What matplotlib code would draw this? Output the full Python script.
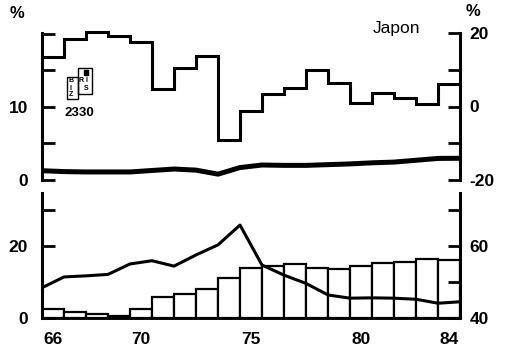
import numpy as np
import matplotlib.pyplot as plt
from matplotlib.patches import Rectangle

plt.rcParams['font.family'] = ['Liberation Sans', 'DejaVu Sans']

#### Data ####
years = np.arange(66, 85)                      # one bar / step per year
edges = np.arange(65.5, 85.5)                  # year boundaries
tick_years = [66, 70, 75, 80, 84]

# top panel: yearly growth (right scale, steps) and unemployment (left scale)
growth = [13.4, 18.4, 20.4, 19.3, 17.5, 4.7, 10.6, 13.8, -9.0, -1.3,
          3.3, 5.1, 9.9, 6.5, 1.0, 3.8, 2.2, 0.8, 6.0]
unemp = [1.27, 1.15, 1.1, 1.1, 1.1, 1.3, 1.5, 1.35, 0.8, 1.7,
         2.05, 2.0, 2.0, 2.1, 2.2, 2.35, 2.45, 2.7, 2.95, 2.97]

# bottom panel: price rise (left scale, line) and share (right scale, bars)
prices = [8.4, 11.4, 11.7, 12.1, 15.0, 15.9, 14.4, 17.5, 20.3, 25.8,
          14.7, 11.9, 9.6, 6.4, 5.5, 5.6, 5.5, 5.2, 4.1, 4.5]
shares = [42.5, 41.75, 41.0, 40.6, 42.5, 45.7, 46.6, 48.0, 51.0, 53.8,
          54.4, 55.0, 53.8, 53.5, 54.3, 55.4, 55.6, 56.4, 56.1]

W, H = 508, 353
def px(x, y): return (x / W, 1 - y / H)

FS = 12.5   # size of the numbers on the axes


#### Axis styling shared by both panels ####
def style_axis(ax, side, bottom_spine=False):
    for s in ["top", "bottom", "left", "right"]:
        ax.spines[s].set_visible(False)
    ax.spines[side].set_visible(True)
    ax.spines[side].set_linewidth(2.2)
    if bottom_spine:
        ax.spines["bottom"].set_visible(True)
        ax.spines["bottom"].set_linewidth(1.8)
    ax.tick_params(axis="y", direction="in", length=9, width=2,
                   labelsize=FS, pad=10 if side == "left" else 7)
    if side == "right":
        ax.yaxis.tick_right()
    for lab in ax.get_yticklabels():
        lab.set_fontweight("bold")


fig = plt.figure(figsize=(W / 100, H / 100), dpi=100)

#### Top panel ####
ax1 = fig.add_axes([42 / W, 1 - 180 / H, 418 / W, 147 / H])
ax1.plot(edges, unemp, color="black", lw=3.6, solid_capstyle="butt")
ax1.set_xlim(65.5, 84.5)
ax1.set_ylim(0, 20.1)
ax1.set_yticks([0, 5, 10, 15, 20])
ax1.set_yticklabels(["0", "", "10", "", ""])
ax1.set_xticks([])
style_axis(ax1, "left")

ax1r = ax1.twinx()
ax1r.stairs(growth, edges, baseline=None, color="black", lw=2.2, clip_on=False)
ax1r.set_xlim(65.5, 84.5)
ax1r.set_ylim(-20, 20)
ax1r.set_yticks([-20, -10, 0, 10, 20])
ax1r.set_yticklabels(["-20", "", "0", "", "20"])
style_axis(ax1r, "right")

#### Bottom panel ####
ax2 = fig.add_axes([42 / W, 1 - 318 / H, 418 / W, 125 / H])
ax2r = ax2.twinx()
ax2r.bar(years, np.array(shares) - 40, bottom=40, width=1, color="white",
         edgecolor="black", linewidth=1.6)
ax2r.set_ylim(40, 74.7)
ax2r.set_yticks([40, 50, 60, 70])
ax2r.set_yticklabels(["40", "", "60", ""])
style_axis(ax2r, "right", bottom_spine=True)

# line drawn above the bars
ax2.set_zorder(ax2r.get_zorder() + 1)
ax2.patch.set_visible(False)
ax2.plot(edges, prices, color="black", lw=2.2)
ax2.set_xlim(65.5, 84.5)
ax2.set_ylim(0, 34.7)
ax2.set_yticks([0, 20, 30])
ax2.set_yticklabels(["0", "20", ""])
style_axis(ax2, "left", bottom_spine=True)
ax2.set_xticks(tick_years)
ax2.set_xticklabels([str(y) for y in tick_years], fontsize=FS, fontweight="bold")
ax2.tick_params(axis="x", length=0, pad=10)
ax2r.set_xlim(65.5, 84.5)

#### Texts ####
fig.text(*px(17, 14), "%", fontsize=12, fontweight="bold", ha="center", va="center")
fig.text(*px(473, 11), "%", fontsize=12, fontweight="bold", ha="center", va="center")
fig.text(*px(397, 28), "Japon", fontsize=12.5, ha="center", va="center")

#### Small stamp ####
for (x0, y0, x1, y1) in [(67, 77, 78, 99), (78, 68, 92, 94)]:
    fig.patches.append(Rectangle(px(x0, y1), (x1 - x0) / W, (y1 - y0) / H,
                                 fill=False, edgecolor="black", lw=1.0,
                                 transform=fig.transFigure))
for ch, x, y in [("B", 71, 81), ("R", 81, 81), ("I", 71, 88), ("Z", 71, 95),
                 ("I", 86, 80), ("S", 86, 88)]:
    fig.text(*px(x, y), ch, fontsize=5, fontweight="bold", ha="center", va="center")
fig.patches.append(Rectangle(px(84, 75), 4 / W, 5 / H, color="black",
                             transform=fig.transFigure))
fig.text(*px(79, 113), "2330", fontsize=9.5, fontweight="bold", ha="center", va="center")

plt.savefig("out.png", dpi=100)
